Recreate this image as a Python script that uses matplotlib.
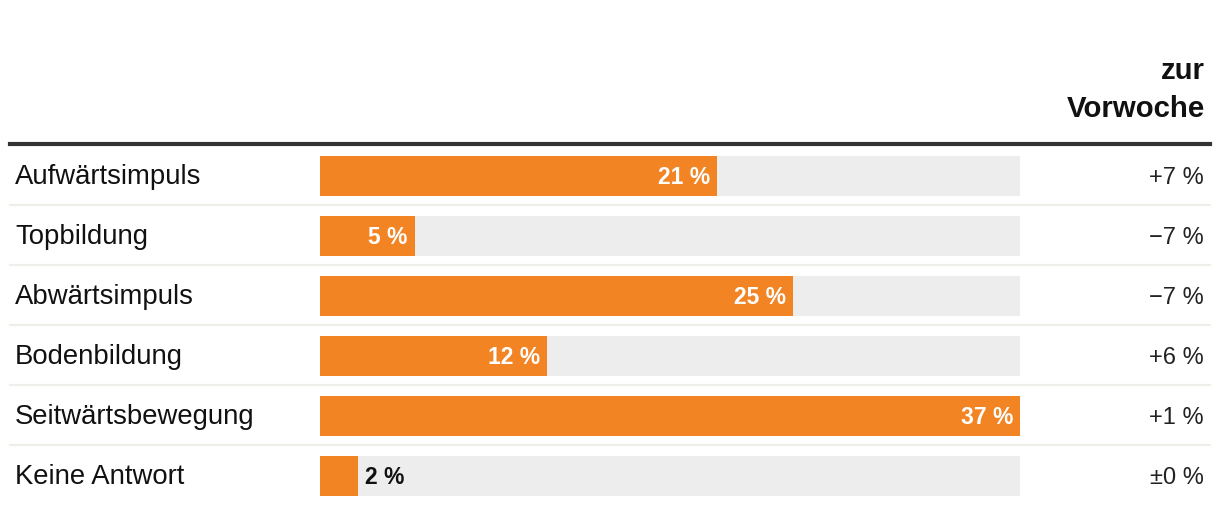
import matplotlib
matplotlib.use("Agg")
import matplotlib.pyplot as plt
from matplotlib.transforms import blended_transform_factory

categories = ["Aufwärtsimpuls", "Topbildung", "Abwärtsimpuls", "Bodenbildung",
              "Seitwärtsbewegung", "Keine Antwort"]
values = [21, 5, 25, 12, 37, 2]
value_labels = ["21 %", "5 %", "25 %", "12 %", "37 %", "2 %"]
change_labels = ["+7 %", "\u22127 %", "\u22127 %", "+6 %", "+1 %", "\u00b10 %"]
header_lines = ["zur", "Vorwoche"]
scale_max = 37

W, H = 1220, 514
fig = plt.figure(figsize=(W / 100, H / 100), dpi=100)
fig.patch.set_facecolor("white")

row_h = 60
top = 146
n = len(categories)
ax = fig.add_axes([320 / W, (H - (top + n * row_h)) / H, 700 / W, n * row_h / H])
ax.set_xlim(0, scale_max)
ax.set_ylim(n - 0.5, -0.5)
ax.axis("off")

orange = "#f28423"
ys = list(range(n))
ax.barh(ys, [scale_max] * n, height=40 / 60, color="#ededed", left=0, zorder=1)
ax.barh(ys, values, height=40 / 60, color=orange, zorder=2)

trans_fx = blended_transform_factory(fig.transFigure, ax.transData)
font = "Liberation Sans"
base_off = 8.3 / row_h
for i, (cat, v, vl, cl) in enumerate(zip(categories, values, value_labels, change_labels)):
    ax.text(15 / W, i + base_off, cat, transform=trans_fx, ha="left", va="baseline",
            fontsize=19.8, color="#111111", family=font)
    ax.text(1204 / W, i + base_off, cl, transform=trans_fx, ha="right", va="baseline",
            fontsize=17, color="#222222", family=font)
    if v >= 4:
        ax.annotate(vl, (v, i + base_off), xytext=(-7, 0), textcoords="offset pixels",
                    ha="right", va="baseline", fontsize=16.5, fontweight="bold",
                    color="white", family=font, zorder=3)
    else:
        ax.annotate(vl, (v, i + base_off), xytext=(7, 0), textcoords="offset pixels",
                    ha="left", va="baseline", fontsize=16.5, fontweight="bold",
                    color="#111111", family=font, zorder=3)

# separators
for i in range(n - 1):
    ax.plot([10 / W, 1210 / W], [i + 0.48, i + 0.48], transform=trans_fx,
            color="#efefea", lw=1.6, clip_on=False, zorder=0)

# header thick line
fig.add_artist(plt.Line2D([10 / W, 1210 / W], [(H - 144) / H, (H - 144) / H],
                          color="#333333", lw=3.0, transform=fig.transFigure))

fig.text(1205 / W, (H - 71) / H, header_lines[0], ha="right", va="center",
         fontsize=21.2, fontweight="bold", color="#111111", family=font)
fig.text(1205 / W, (H - 109) / H, header_lines[1], ha="right", va="center",
         fontsize=21.2, fontweight="bold", color="#111111", family=font)

fig.savefig("out.png", dpi=100, facecolor="white")
